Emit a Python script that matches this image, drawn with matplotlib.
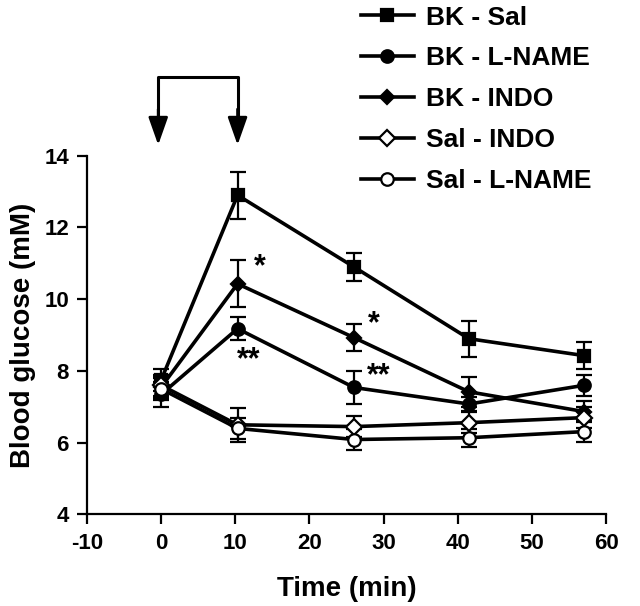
import matplotlib
matplotlib.use("Agg")
import matplotlib.pyplot as plt

plt.rcParams['font.family'] = ['Liberation Sans', 'DejaVu Sans']
plt.rcParams['font.weight'] = 'bold'
plt.rcParams['axes.unicode_minus'] = False

# time points (min)
time = [0, 10.3, 26, 41.5, 57]

labels = ["BK - Sal", "BK - L-NAME", "BK - INDO", "Sal - INDO", "Sal - L-NAME"]
bk_sal = [7.75, 12.9, 10.9, 8.9, 8.43]
bk_sal_err = [0.3, 0.65, 0.38, 0.5, 0.38]
bk_lname = [7.35, 9.18, 7.54, 7.08, 7.6]
bk_lname_err = [0.35, 0.32, 0.45, 0.2, 0.3]
bk_indo = [7.55, 10.43, 8.93, 7.42, 6.87]
bk_indo_err = [0.3, 0.65, 0.38, 0.42, 0.3]
sal_indo = [7.6, 6.5, 6.45, 6.56, 6.7]
sal_indo_err = [0.3, 0.48, 0.3, 0.3, 0.3]
sal_lname = [7.5, 6.4, 6.09, 6.14, 6.31]
sal_lname_err = [0.3, 0.3, 0.3, 0.25, 0.3]

series = [bk_sal, bk_lname, bk_indo, sal_indo, sal_lname]
errors = [bk_sal_err, bk_lname_err, bk_indo_err, sal_indo_err, sal_lname_err]
markers = ['s', 'o', 'D', 'D', 'o']
faces = ['black', 'black', 'black', 'white', 'white']
sizes = [9, 9, 7, 8, 9]

# significance marks: (x, y, text)
stars = [(13.3, 10.9, "*"), (11.8, 8.3, "**"), (28.7, 9.3, "*"), (29.4, 7.85, "**")]

fig = plt.figure(figsize=(6.4, 6.06), dpi=100)
ax = fig.add_axes([0.136, 0.151, 0.811, 0.592])

handles = []
for y, e, m, fc, ms, lab in zip(series, errors, markers, faces, sizes, labels):
    ax.errorbar(time, y, yerr=e, fmt='none', ecolor='black', elinewidth=1.6,
                capsize=6, capthick=1.6, zorder=2)
    h, = ax.plot(time, y, color='black', lw=2.6, marker=m, ms=ms, mfc=fc,
                 mec='black', mew=1.6, label=lab, zorder=3)
    handles.append(h)

for x, y, t in stars:
    ax.text(x, y, t, fontsize=22, fontweight='bold', ha='center', va='center')

# injection arrows above the plot
ax.plot([-0.4, -0.4, 10.3, 10.3], [15.0, 16.2, 16.2, 15.0], color='black',
        lw=2.2, clip_on=False)
for xa in [-0.4, 10.3]:
    ax.annotate("", xy=(xa, 14.3), xytext=(xa, 15.3), xycoords='data',
                arrowprops=dict(arrowstyle='-|>,head_width=0.3,head_length=0.85',
                                mutation_scale=20, color='black', lw=2.0,
                                shrinkA=0, shrinkB=0),
                annotation_clip=False)

ax.set_xlim(-10, 60)
ax.set_ylim(4, 14)
ax.set_xticks(range(-10, 61, 10))
ax.set_yticks(range(4, 15, 2))
ax.spines['top'].set_visible(False)
ax.spines['right'].set_visible(False)
for s in ['left', 'bottom']:
    ax.spines[s].set_linewidth(1.6)
ax.tick_params(direction='out', length=7, width=1.6, labelsize=16, pad=6)
for lbl in ax.get_xticklabels() + ax.get_yticklabels():
    lbl.set_fontweight('bold')

ax.set_xlabel("Time (min)", fontsize=20, fontweight='bold', labelpad=16)
ax.set_ylabel("Blood glucose (mM)", fontsize=20, fontweight='bold', labelpad=6)

fig.legend(handles=handles, labels=labels, loc='upper left',
           bbox_to_anchor=(0.527, 1.03), frameon=False,
           handlelength=2.0, labelspacing=0.64, handletextpad=0.45,
           prop={'weight': 'bold', 'size': 19})

fig.savefig("out.png", dpi=100)
